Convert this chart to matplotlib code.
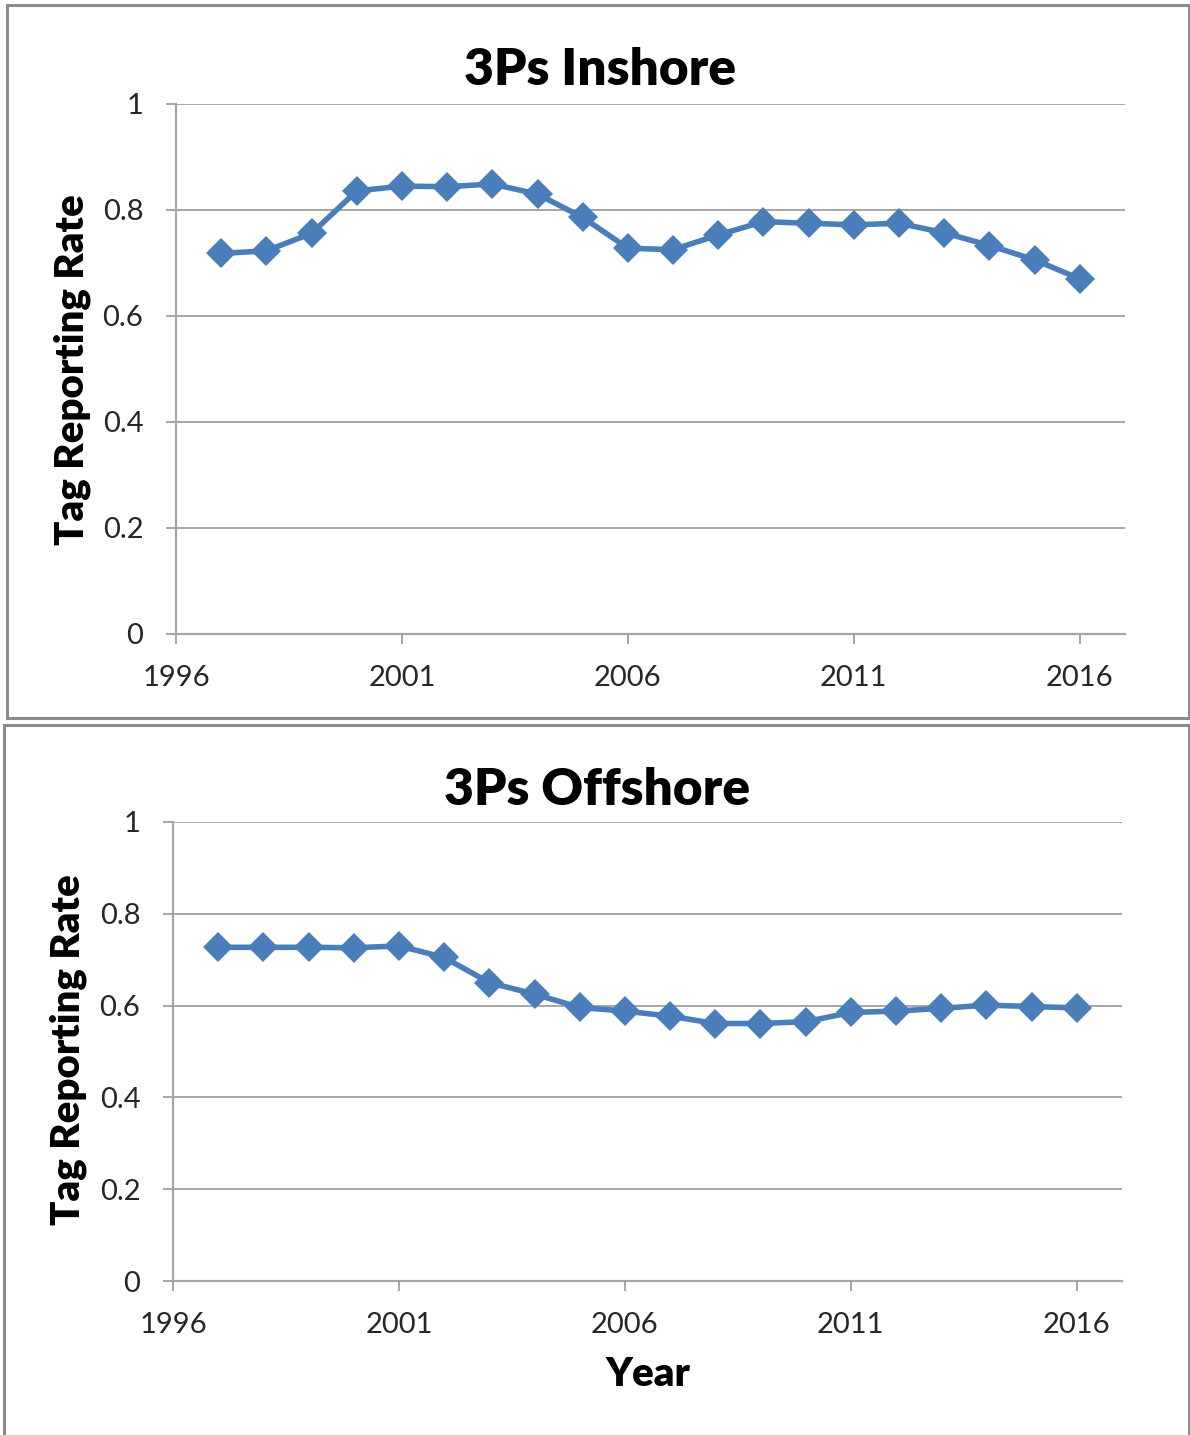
import matplotlib.pyplot as plt
from matplotlib.patches import Rectangle

# Tag reporting rate estimates by year, 3Ps inshore and offshore
years = list(range(1997, 2017))
inshore = [0.718, 0.723, 0.756, 0.836, 0.845, 0.844, 0.849, 0.830, 0.786, 0.728,
           0.725, 0.753, 0.778, 0.775, 0.772, 0.775, 0.757, 0.733, 0.706, 0.670]
offshore = [0.727, 0.727, 0.727, 0.726, 0.730, 0.705, 0.650, 0.625, 0.596, 0.588,
            0.577, 0.561, 0.561, 0.565, 0.585, 0.588, 0.594, 0.601, 0.598, 0.595]

xticks = [1996, 2001, 2006, 2011, 2016]
yticks = [0, 0.2, 0.4, 0.6, 0.8, 1]
ytick_labels = ["0", "0.2", "0.4", "0.6", "0.8", "1"]

LINE_BLUE = "#4a7ebb"
AXIS_GREY = "#a6a6a6"
FONT = ["Lato", "DejaVu Sans"]

plt.rcParams["font.family"] = FONT

W, H = 1190, 1435
fig = plt.figure(figsize=(W / 100, H / 100), dpi=100)


def px_rect(x0, y0, x1, y1):
    # pixel box (top-left origin) -> figure fraction [left, bottom, width, height]
    return [x0 / W, 1 - y1 / H, (x1 - x0) / W, (y1 - y0) / H]


def draw_panel(box, ax_box, values, title, title_xy, ylabel_xy, xlabel=None):
    l, b, w, h = px_rect(*box)
    fig.patches.append(Rectangle((l, b), w, h, transform=fig.transFigure,
                                 fill=False, edgecolor="#8c8c8c", linewidth=2.2))
    ax = fig.add_axes(px_rect(*ax_box))
    ax.plot(years, values, color=LINE_BLUE, linewidth=4.0, marker="D",
            markersize=15, markeredgewidth=0, zorder=3, clip_on=False)
    ax.set_xlim(1996, 2017)
    ax.set_ylim(0, 1)
    ax.set_xticks(xticks)
    ax.set_xticklabels([str(t) for t in xticks])
    ax.set_yticks(yticks)
    ax.set_yticklabels(ytick_labels)
    ax.grid(axis="y", color=AXIS_GREY, linewidth=1.4)
    ax.set_axisbelow(True)
    for side in ("top", "right"):
        ax.spines[side].set_visible(False)
    for side in ("left", "bottom"):
        ax.spines[side].set_color(AXIS_GREY)
        ax.spines[side].set_linewidth(1.6)
    ax.tick_params(axis="both", direction="out", length=7.5, width=1.4,
                   color=AXIS_GREY, labelsize=21, labelcolor="#262626")
    ax.tick_params(axis="y", pad=16)
    ax.tick_params(axis="x", pad=15)

    fig.text(title_xy[0] / W, 1 - title_xy[1] / H, title, ha="center",
             va="center", fontsize=37, fontweight="heavy", color="black")
    fig.text(ylabel_xy[0] / W, 1 - ylabel_xy[1] / H, "Tag Reporting Rate",
             ha="center", va="center", rotation=90, fontsize=29,
             fontweight="heavy", color="black")
    if xlabel:
        fig.text(648 / W, 1 - 1375 / H, xlabel, ha="center", va="center",
                 fontsize=29, fontweight="heavy", color="black")
    return ax


draw_panel((7, 5, 1189, 718), (176, 104, 1125, 634), inshore,
           "3Ps Inshore", (600, 70), (72, 370))
draw_panel((4, 725, 1189, 1440), (173, 822, 1122, 1281), offshore,
           "3Ps Offshore", (597, 790), (68, 1050), xlabel="Year")

fig.savefig("out.png", dpi=100)
